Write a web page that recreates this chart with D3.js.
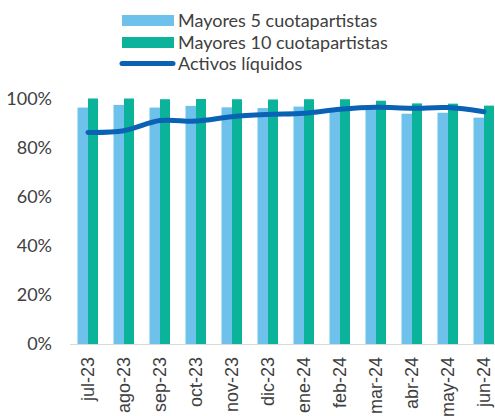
<!DOCTYPE html>
<html>
<head>
<meta charset="utf-8">
<script src="https://cdn.jsdelivr.net/npm/d3@7"></script>
<style>
  body { margin: 0; background: #fff; }
  svg { display: block; }
</style>
</head>
<body>
<div id="chart"></div>
<script>
const months = ["jul-23", "ago-23", "sep-23", "oct-23", "nov-23", "dic-23",
  "ene-24", "feb-24", "mar-24", "abr-24", "may-24", "jun-24"];
const top5 = [96.3, 97.4, 96.3, 97.0, 96.4, 96.1, 96.7, 95.8, 96.0, 93.8, 94.2, 92.2];
const top10 = [100.0, 100.0, 99.7, 99.8, 99.7, 99.6, 99.7, 99.7, 99.1, 98.0, 97.9, 97.1];
const liquidos = [86.2, 86.9, 91.0, 90.8, 92.6, 93.5, 94.0, 95.6, 96.4, 96.0, 96.3, 94.6];
const yTicks = [0, 20, 40, 60, 80, 100];

const seriesNames = ["Mayores 5 cuotapartistas", "Mayores 10 cuotapartistas", "Activos líquidos"];
const colors = { light: "#6ec1ea", green: "#0bb39a", line: "#0a62b5" };

const width = 495, height = 416;
const plot = { left: 70, top: 98.5, right: 502, bottom: 344 };

const svg = d3.select("#chart").append("svg")
  .attr("width", width)
  .attr("height", height);

const xScale = d3.scaleBand().domain(months).range([plot.left, plot.right]).padding(0);
const yScale = d3.scaleLinear().domain([0, 100]).range([plot.bottom, plot.top]);
const barW = 10.5;
const cx = m => xScale(m) + xScale.bandwidth() / 2;

// y labels
svg.append("g")
  .selectAll("text")
  .data(yTicks).enter()
  .append("text")
    .attr("x", 52)
    .attr("y", d => yScale(d))
    .attr("dy", "0.35em")
    .attr("text-anchor", "end")
    .attr("font-family", "Lato")
    .attr("font-size", 18)
    .attr("fill", "#404040")
    .text(d => d + "%");

// bars
const g = svg.append("g");
g.selectAll("rect.b5")
  .data(top5).enter()
  .append("rect")
    .attr("class", "b5")
    .attr("x", (d, i) => cx(months[i]) - barW)
    .attr("y", d => yScale(d))
    .attr("width", barW)
    .attr("height", d => plot.bottom - yScale(d))
    .attr("fill", colors.light);

g.selectAll("rect.b10")
  .data(top10).enter()
  .append("rect")
    .attr("class", "b10")
    .attr("x", (d, i) => cx(months[i]))
    .attr("y", d => yScale(d))
    .attr("width", barW - 0.5)
    .attr("height", d => plot.bottom - yScale(d))
    .attr("fill", colors.green);

// x axis line
svg.append("line")
  .attr("x1", plot.left).attr("x2", width)
  .attr("y1", plot.bottom + 0.5).attr("y2", plot.bottom + 0.5)
  .attr("stroke", "#d9d9d9")
  .attr("stroke-width", 1);

// line
const line = d3.line()
  .x((d, i) => cx(months[i]))
  .y(d => yScale(d))
  .curve(d3.curveCatmullRom.alpha(0.5));

svg.append("path")
  .datum(liquidos)
  .attr("d", line)
  .attr("fill", "none")
  .attr("stroke", colors.line)
  .attr("stroke-width", 5)
  .attr("stroke-linecap", "round")
  .attr("stroke-linejoin", "round");

// x labels
svg.append("g")
  .selectAll("text")
  .data(months).enter()
  .append("text")
    .attr("transform", d => `translate(${cx(d)}, 357) rotate(-90)`)
    .attr("dy", "0.35em")
    .attr("text-anchor", "end")
    .attr("font-family", "Liberation Sans, Arial")
    .attr("font-size", 18)
    .attr("fill", "#404040")
    .text(d => d);

// legend
const legend = svg.append("g");
const legY = [20.5, 42.5, 64];
legend.append("rect")
  .attr("x", 122).attr("y", 15).attr("width", 52).attr("height", 11)
  .attr("fill", colors.light);
legend.append("rect")
  .attr("x", 122).attr("y", 37).attr("width", 52).attr("height", 11)
  .attr("fill", colors.green);
legend.append("line")
  .attr("x1", 122).attr("x2", 173).attr("y1", 63.5).attr("y2", 63.5)
  .attr("stroke", colors.line)
  .attr("stroke-width", 5)
  .attr("stroke-linecap", "round");
legend.selectAll("text")
  .data(seriesNames).enter()
  .append("text")
    .attr("x", 178)
    .attr("y", (d, i) => legY[i])
    .attr("dy", "0.35em")
    .attr("font-family", "Lato")
    .attr("font-size", 18)
    .attr("fill", "#404040")
    .text(d => d);
</script>
</body>
</html>
